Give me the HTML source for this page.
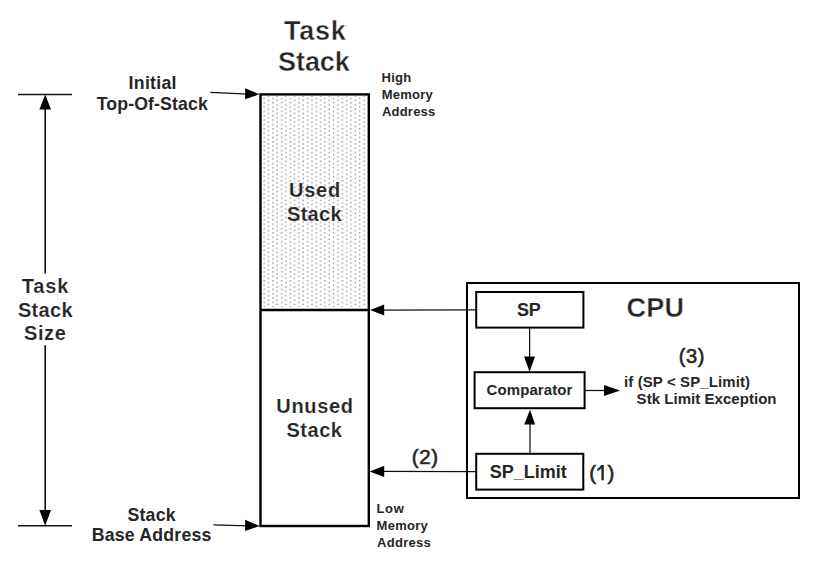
<!DOCTYPE html>
<html><head><meta charset="utf-8">
<style>
html,body{margin:0;padding:0;background:#fff;}
body{width:830px;height:566px;overflow:hidden;position:relative;}
svg{position:absolute;left:0;top:0;}
text{font-family:"Liberation Sans",sans-serif;font-weight:bold;fill:#262626;}
text.r{font-weight:normal;}
</style></head><body>
<svg width="830" height="566" viewBox="0 0 830 566">
<defs>
<pattern id="dots" x="263.5" y="149.74" width="8.68" height="4.34" patternUnits="userSpaceOnUse">
<rect x="0" y="0" width="1.4" height="1.4" fill="#979797"/>
<rect x="4.34" y="2.17" width="1.4" height="1.4" fill="#979797"/>
</pattern>
</defs>
<!-- dotted fill -->
<rect x="262" y="96" width="105.5" height="211" fill="url(#dots)"/>
<!-- stack rect -->
<rect x="260.5" y="94.4" width="108.3" height="431.6" fill="none" stroke="#000" stroke-width="2.4"/>
<line x1="260.5" y1="310" x2="368.8" y2="310" stroke="#000" stroke-width="2.4"/>
<!-- size dimension -->
<g stroke="#111" stroke-width="1.6" fill="none">
<line x1="18" y1="94.5" x2="72" y2="94.5"/>
<line x1="18" y1="525.7" x2="72" y2="525.7"/>
<line x1="45.2" y1="100" x2="45.2" y2="273.5"/>
<line x1="45.2" y1="345.2" x2="45.2" y2="515"/>
</g>
<polygon points="45.2,94.5 39.4,109.6 51,109.6" fill="#000"/>
<polygon points="45.2,525.7 39.4,510 51,510" fill="#000"/>
<!-- initial arrow -->
<line x1="210.4" y1="92.3" x2="248" y2="94.1" stroke="#111" stroke-width="1.25"/>
<polygon points="259.5,94.3 245.1,88.2 245.1,99.3" fill="#000"/>
<!-- base arrow -->
<line x1="213.5" y1="524.9" x2="248" y2="525.8" stroke="#111" stroke-width="1.25"/>
<polygon points="259.8,526 245.1,519.8 245.1,531" fill="#000"/>
<!-- CPU box -->
<rect x="467" y="283" width="332" height="215" fill="none" stroke="#000" stroke-width="2"/>
<rect x="476.2" y="292" width="107.2" height="35.6" fill="none" stroke="#000" stroke-width="2"/>
<rect x="474.6" y="372.2" width="110" height="36" fill="none" stroke="#000" stroke-width="2"/>
<rect x="476.2" y="453.8" width="107.1" height="35.8" fill="none" stroke="#000" stroke-width="2"/>
<!-- SP arrow to stack -->
<line x1="476" y1="309.8" x2="380" y2="310" stroke="#111" stroke-width="1.25"/>
<polygon points="370.1,310 384.2,304.4 384.2,315.6" fill="#000"/>
<!-- SP_Limit arrow -->
<line x1="476" y1="471.5" x2="380" y2="471.4" stroke="#111" stroke-width="1.25"/>
<polygon points="369.6,471.4 384.2,465.8 384.2,477.1" fill="#000"/>
<!-- SP -> comparator -->
<line x1="529.6" y1="327.6" x2="529.6" y2="360" stroke="#111" stroke-width="1.25"/>
<polygon points="529.6,372 524.1,356.5 535,356.5" fill="#000"/>
<!-- SP_Limit -> comparator -->
<line x1="530" y1="453.8" x2="530" y2="420" stroke="#111" stroke-width="1.25"/>
<polygon points="530,409.7 524.2,424.4 535.1,424.4" fill="#000"/>
<!-- comparator -> text -->
<line x1="584.6" y1="390.5" x2="608" y2="390.5" stroke="#111" stroke-width="1.25"/>
<polygon points="620.2,390.5 604,384.9 604,396" fill="#000"/>
<!-- text -->
<text class="r" stroke="#262626" stroke-width="0.6" x="589.2" y="480.3" font-size="20.5">(</text>
<text class="r" stroke="#262626" stroke-width="0.6" x="607.6" y="480.3" font-size="20.5">)</text>
<path d="M601.4,464.9 L603.8,464.9 L603.8,480.2 L601.4,480.2 L601.4,468.2 Q599.5,470 597.2,471.2 L597.2,468.9 Q599.8,467.4 601.2,464.9 Z" fill="#262626"/>
<text x="283.94" y="39.8" font-size="27" textLength="61.85" lengthAdjust="spacing" stroke="#fff" stroke-width="0.4">Task</text>
<text x="278.03" y="70.9" font-size="27" textLength="71.78" lengthAdjust="spacing" stroke="#fff" stroke-width="0.4">Stack</text>
<text x="128.60" y="89.1" font-size="17.7" textLength="47.93" lengthAdjust="spacing">Initial</text>
<text x="96.72" y="109.7" font-size="17.7" textLength="111.03" lengthAdjust="spacing">Top-Of-Stack</text>
<text x="21.71" y="292.6" font-size="20" textLength="46.63" lengthAdjust="spacing" stroke="#fff" stroke-width="0.15">Task</text>
<text x="17.93" y="316.8" font-size="20" textLength="54.73" lengthAdjust="spacing" stroke="#fff" stroke-width="0.15">Stack</text>
<text x="23.93" y="340.1" font-size="20" textLength="41.88" lengthAdjust="spacing" stroke="#fff" stroke-width="0.15">Size</text>
<text x="288.91" y="196.6" font-size="20" textLength="51.27" lengthAdjust="spacing" stroke="#fff" stroke-width="0.15">Used</text>
<text x="286.99" y="221.3" font-size="20" textLength="54.58" lengthAdjust="spacing" stroke="#fff" stroke-width="0.15">Stack</text>
<text x="276.31" y="413.0" font-size="20" textLength="76.64" lengthAdjust="spacing" stroke="#fff" stroke-width="0.15">Unused</text>
<text x="286.51" y="436.8" font-size="20" textLength="55.39" lengthAdjust="spacing" stroke="#fff" stroke-width="0.15">Stack</text>
<text x="127.43" y="521.3" font-size="17.7" textLength="48.17" lengthAdjust="spacing">Stack</text>
<text x="91.68" y="541.4" font-size="17.7" textLength="119.74" lengthAdjust="spacing">Base Address</text>
<text x="381.62" y="81.6" font-size="13" textLength="29.64" lengthAdjust="spacing">High</text>
<text x="381.63" y="98.9" font-size="13" textLength="51.22" lengthAdjust="spacing">Memory</text>
<text x="381.93" y="116.2" font-size="13" textLength="53.32" lengthAdjust="spacing">Address</text>
<text x="376.56" y="512.5" font-size="13" textLength="27.21" lengthAdjust="spacing">Low</text>
<text x="376.53" y="530.0" font-size="13" textLength="51.32" lengthAdjust="spacing">Memory</text>
<text x="377.05" y="546.9" font-size="13" textLength="53.75" lengthAdjust="spacing">Address</text>
<text x="626.47" y="317.4" font-size="27" textLength="57.57" lengthAdjust="spacing" stroke="#fff" stroke-width="0.4">CPU</text>
<text x="517.01" y="315.9" font-size="18" textLength="23.85" lengthAdjust="spacing">SP</text>
<text x="486.52" y="394.9" font-size="15" textLength="85.84" lengthAdjust="spacing">Comparator</text>
<text x="489.85" y="477.6" font-size="18" textLength="77.01" lengthAdjust="spacing">SP_Limit</text>
<text class="r" x="411.66" y="464.2" font-size="20.5" textLength="26.53" lengthAdjust="spacing" stroke="#262626" stroke-width="0.6">(2)</text>
<text class="r" x="678.72" y="363.4" font-size="20" textLength="25.81" lengthAdjust="spacing" stroke="#262626" stroke-width="0.6">(3)</text>
<text x="624.04" y="387.4" font-size="15" textLength="126.03" lengthAdjust="spacing">if (SP &lt; SP_Limit)</text>
<text x="636.62" y="403.8" font-size="15" textLength="139.89" lengthAdjust="spacing">Stk Limit Exception</text>
</svg>
</body></html>
